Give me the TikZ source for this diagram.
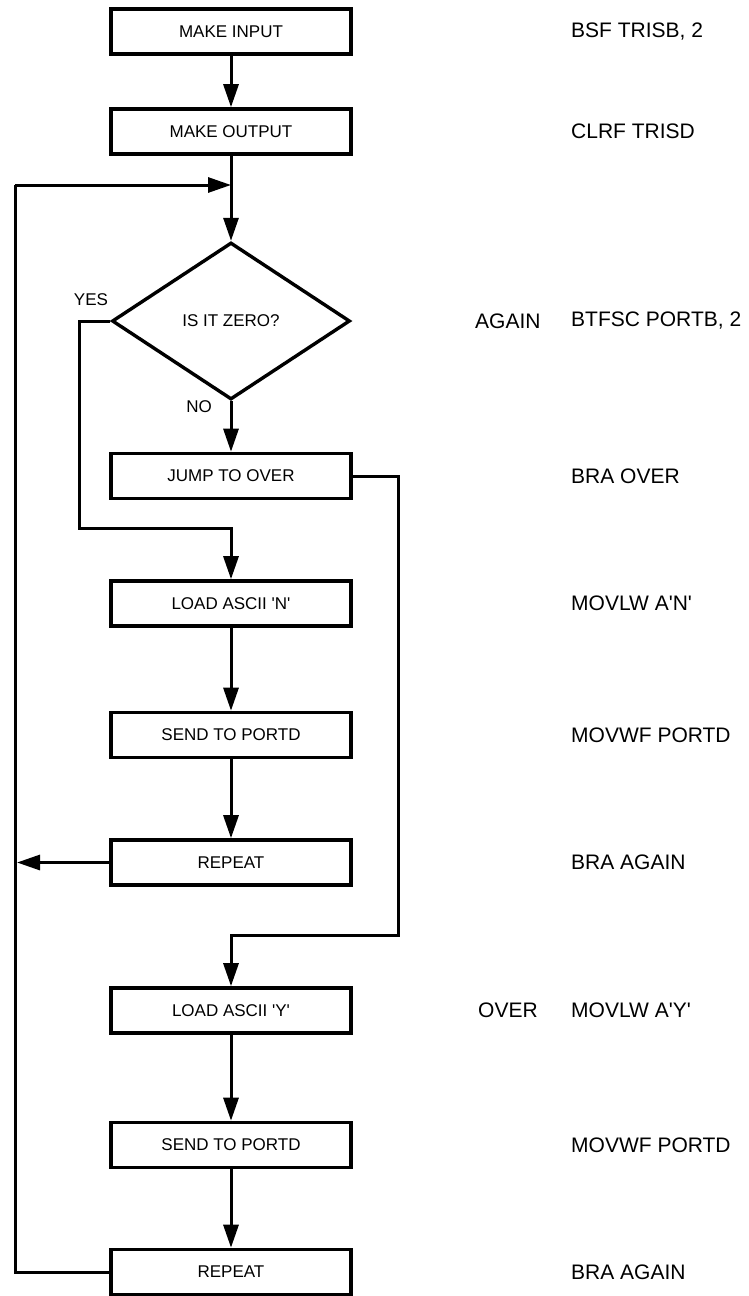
\documentclass[tikz,border=0pt]{standalone}
\usepackage{fontspec}
\setmainfont{Liberation Sans}
\usetikzlibrary{shapes.geometric,arrows.meta}
\newcommand{\sq}{\textquotesingle}
\begin{document}
\begin{tikzpicture}[x=1pt, y=-1pt,
  font=\fontsize{17}{20}\selectfont,
  stepbox/.style={draw, rectangle, line width=3.6pt, minimum width=240pt,
                  minimum height=45pt, inner sep=2pt},
  decide/.style={draw, diamond, line width=3.4pt, minimum width=238pt,
                 minimum height=157pt, inner sep=1pt},
  arr/.style={-{Triangle[width=15pt,length=23pt]}, line width=3pt},
  ln/.style={line width=3pt},
  asm/.style={anchor=west, inner sep=0pt, font=\fontsize{21}{25}\selectfont}
]
  \useasboundingbox (0,0) rectangle (748,1296);
  % Flowchart steps
  \node[stepbox] (mkin)  at (231,31.5)   {MAKE INPUT};
  \node[stepbox] (mkout) at (231,131.5)  {MAKE OUTPUT};
  \node[decide]  (zero)  at (231,321)    {IS IT ZERO?};
  \node[stepbox] (jump)  at (231,476)    {JUMP TO OVER};
  \node[stepbox] (ldn)   at (231,603.5)  {LOAD ASCII \sq N\sq};
  \node[stepbox] (sendn) at (231,735)    {SEND TO PORTD};
  \node[stepbox] (repn)  at (231,862.5)  {REPEAT};
  \node[stepbox] (ldy)   at (231,1010.5) {LOAD ASCII \sq Y\sq};
  \node[stepbox] (sendy) at (231,1145)   {SEND TO PORTD};
  \node[stepbox] (repy)  at (231,1272)   {REPEAT};
  % Branch labels
  \node (yes) at (91,300) {YES};
  \node (no)  at (199,407) {NO};
  % Corner points
  \coordinate (back)  at (231,185);
  \coordinate (loop)  at (15,185);
  \coordinate (yesc)  at (79,528);
  \coordinate (overc) at (398,935);
  % Connectors
  \draw[arr] (mkin) -- (mkout);
  \draw[arr] (mkout) -- (zero);
  \draw[arr] (zero) -- (jump);
  \draw[arr] (zero.west) -| (yesc) -| (ldn.north);
  \draw[arr] (jump.east) -| (overc) -| (ldy.north);
  \draw[arr] (ldn) -- (sendn);
  \draw[arr] (sendn) -- (repn);
  \draw[arr] (ldy) -- (sendy);
  \draw[arr] (sendy) -- (repy);
  \draw[arr, shorten >=2pt] (repn.west) -- (repn.west -| loop);
  \draw[ln] (repy.west) -- (repy.west -| loop) -- (loop);
  \draw[arr] (loop) -- (back);
  % Assembly code
  \node[asm] (c1)  at (571,31.5)   {BSF TRISB, 2};
  \node[asm] (c2)  at (571,131.5)  {CLRF TRISD};
  \node[asm] (lb1) at (475,321)    {AGAIN};
  \node[asm] (c3)  at (571,321)    {BTFSC PORTB, 2};
  \node[asm] (c4)  at (571,476)    {BRA OVER};
  \node[asm] (c5)  at (571,603.5)  {MOVLW A\sq N\sq};
  \node[asm] (c6)  at (571,735)    {MOVWF PORTD};
  \node[asm] (c7)  at (571,862.5)  {BRA AGAIN};
  \node[asm] (lb2) at (478,1010.5) {OVER};
  \node[asm] (c8)  at (571,1010.5) {MOVLW A\sq Y\sq};
  \node[asm] (c9)  at (571,1145)   {MOVWF PORTD};
  \node[asm] (c10) at (571,1272)   {BRA AGAIN};
\end{tikzpicture}
\end{document}
